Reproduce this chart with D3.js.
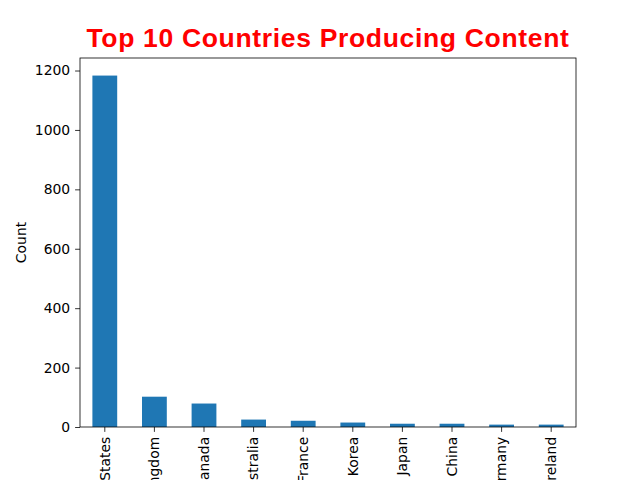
<!DOCTYPE html>
<html>
<head>
<meta charset="utf-8"/>
<script src="https://d3js.org/d3.v7.min.js"></script>
<style>
    body { margin: 0; background: #fff; }
    svg { display: block; }
    .tick text { font-family: "DejaVu Sans", sans-serif; font-size: 13.9px; fill: #000; }
</style>
</head>
<body>
<svg width="640" height="480"></svg>
<script>
    // datos
    const countries = ["United States", "United Kingdom", "Canada", "Australia", "France",
        "South Korea", "Japan", "China", "Germany", "Ireland"];
    const counts = [1183, 102, 79, 25, 21, 15, 11, 11, 8, 8];
    const yTicks = [0, 200, 400, 600, 800, 1000, 1200];

    // márgenes del área del gráfico
    const mLeft = 80, mRight = 576, mTop = 58, mBottom = 427;
    const svg = d3.select("svg");

    const data = countries.map((c, i) => ({country: c, count: counts[i]}));

    let xScale = d3.scaleBand().domain(countries).range([mLeft, mRight])
        .paddingInner(0.5).paddingOuter(0.25);
    let yScale = d3.scaleLinear().domain([0, d3.max(counts) * 1.05]).range([mBottom, mTop]);

    // barras
    svg.append("g").selectAll("rect")
        .data(data).join("rect")
        .attr("x", d => xScale(d.country))
        .attr("y", d => yScale(d.count))
        .attr("width", xScale.bandwidth())
        .attr("height", d => yScale(0) - yScale(d.count))
        .attr("fill", "#1f77b4");

    // eje X (las etiquetas quedan cortadas abajo, igual que en el original)
    let xAxis = d3.axisBottom(xScale).tickSize(4.9).tickPadding(4.9);
    let xg = svg.append("g").attr("transform", "translate(0," + mBottom + ")").call(xAxis);
    xg.select(".domain").remove();
    xg.selectAll(".tick line").attr("stroke", "#000").attr("stroke-width", 0.8);
    xg.selectAll(".tick text")
        .attr("transform", "rotate(-90)")
        .attr("x", -9.8).attr("y", 0).attr("dy", "0.35em")
        .attr("text-anchor", "end");

    // eje Y
    let yAxis = d3.axisLeft(yScale).tickValues(yTicks).tickFormat(d3.format("d"))
        .tickSize(4.9).tickPadding(4.9);
    let yg = svg.append("g").attr("transform", "translate(" + mLeft + ",0)").call(yAxis);
    yg.select(".domain").remove();
    yg.selectAll(".tick line").attr("stroke", "#000").attr("stroke-width", 0.8);

    // marco
    svg.append("rect")
        .attr("x", mLeft).attr("y", mTop)
        .attr("width", mRight - mLeft).attr("height", mBottom - mTop)
        .attr("fill", "none").attr("stroke", "#000").attr("stroke-width", 0.8);

    svg.append("text")
        .attr("transform", "translate(26," + ((mTop + mBottom) / 2) + ") rotate(-90)")
        .attr("text-anchor", "middle")
        .style("font-family", "DejaVu Sans, sans-serif")
        .style("font-size", "13.9px")
        .text("Count");

    // título
    svg.append("text")
        .attr("x", (mLeft + mRight) / 2).attr("y", 47)
        .attr("text-anchor", "middle")
        .style("font-family", "Liberation Sans, Arial, sans-serif")
        .style("font-weight", "bold")
        .style("font-size", "26.5px")
        .style("letter-spacing", "0.67px")
        .attr("fill", "red")
        .text("Top 10 Countries Producing Content");
</script>
</body>
</html>
